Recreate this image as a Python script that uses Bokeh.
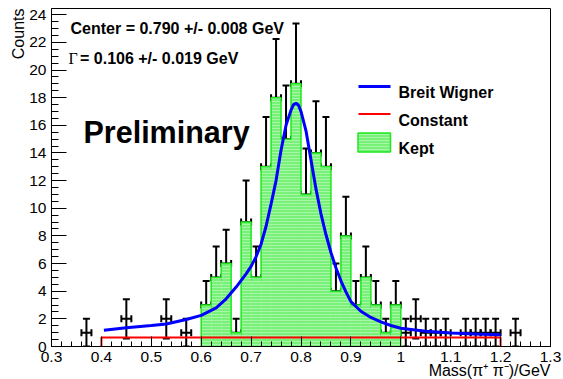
import numpy as np
from bokeh.plotting import figure
from bokeh.models import (ColumnDataSource, Whisker, TeeHead, Label, FixedTicker, Title)
from bokeh.embed import file_html
from bokeh.resources import INLINE

# ---------------- data ----------------
bin_width = 0.02
data_centers = [0.37, 0.45, 0.53, 0.57, 0.61, 0.63, 0.65, 0.67, 0.69, 0.71,
                0.73, 0.75, 0.77, 0.79, 0.81, 0.83, 0.85, 0.87, 0.89, 0.91,
                0.93, 0.95, 0.97, 0.99, 1.01, 1.03, 1.05, 1.07, 1.09, 1.13,
                1.15, 1.17, 1.19, 1.23]
data_counts = [1, 2, 2, 1, 3, 5, 6, 1, 9, 5,
               13, 18, 15, 19, 11, 14, 13, 4, 8, 3,
               5, 3, 1, 3, 1, 2, 1, 1, 1, 1,
               1, 1, 1, 1]

kept_range = (0.60, 1.00)

const_value = 0.65
const_range = (0.40, 1.20)

bw_x = [0.405, 0.45, 0.50, 0.53, 0.57, 0.60, 0.63, 0.65, 0.67, 0.69,
        0.70, 0.71, 0.72, 0.73, 0.74, 0.75, 0.76, 0.77, 0.78, 0.785,
        0.79, 0.795, 0.80, 0.81, 0.82, 0.83, 0.84, 0.85, 0.86, 0.87,
        0.88, 0.89, 0.90, 0.92, 0.94, 0.96, 0.98, 1.00, 1.05, 1.10,
        1.15, 1.20]
bw_y = [1.18, 1.36, 1.52, 1.63, 1.95, 2.25, 2.80, 3.45, 4.30, 5.25,
        5.80, 6.50, 7.40, 8.70, 10.3, 12.0, 14.2, 16.0, 17.1, 17.5,
        17.6, 17.45, 17.0, 15.6, 13.5, 11.4, 9.6, 8.1, 6.8, 5.7,
        4.75, 3.95, 3.25, 2.55, 2.1, 1.78, 1.52, 1.32, 1.1, 0.98,
        0.9, 0.85]

x_ticks = [0.3, 0.4, 0.5, 0.6, 0.7, 0.8, 0.9, 1.0, 1.1, 1.2, 1.3]
x_tick_labels = ["0.3", "0.4", "0.5", "0.6", "0.7", "0.8", "0.9", "1", "1.1", "1.2", "1.3"]
y_ticks = [0, 2, 4, 6, 8, 10, 12, 14, 16, 18, 20, 22, 24]

center_text = "Center = 0.790 +/- 0.008 GeV"
gamma_symbol = "Γ"
gamma_text = "= 0.106 +/- 0.019 GeV"
prelim_text = "Preliminary"
legend_labels = ["Breit Wigner", "Constant", "Kept"]
x_title = "Mass(π⁺ π⁻)/GeV"
y_title = "Counts"

# ---------------- layout ----------------
W, H = 563, 379
FL, FR, FT, FB = 51, 550, 8, 346
X0, X1 = 0.3, 1.3
Y0, Y1 = 0.0, 24.45


def dx(px):
    return X0 + (px - FL) / (FR - FL) * (X1 - X0)


def dy(py):
    return Y0 + (FB - py) / (FB - FT) * (Y1 - Y0)


p = figure(width=W, height=H, x_range=(X0, X1), y_range=(Y0, Y1),
           output_backend="svg", toolbar_location=None,
           min_border_left=FL, min_border_right=W - FR,
           min_border_top=FT, min_border_bottom=H - FB)
p.xgrid.visible = False
p.ygrid.visible = False
p.outline_line_color = "black"
p.outline_line_width = 1
p.background_fill_color = "white"
p.border_fill_color = "white"

FONT = "Liberation Sans"

# axes
xa = p.xaxis[0]
xa.ticker = FixedTicker(ticks=x_ticks,
                        minor_ticks=list(np.round(np.arange(0.3, 1.3001, 0.02), 3)))
xa.major_label_overrides = {t: l for t, l in zip(x_ticks, x_tick_labels)}
xa.major_tick_in = 10
xa.major_tick_out = 0
xa.minor_tick_in = 5
xa.minor_tick_out = 0
xa.major_label_standoff = 5
xa.major_label_text_font = FONT
xa.major_label_text_font_size = "15.5px"
xa.major_label_text_color = "black"
xa.axis_line_color = "black"

ya = p.yaxis[0]
ya.ticker = FixedTicker(ticks=y_ticks,
                        minor_ticks=list(np.arange(0, 24.5001, 0.5)))
ya.major_tick_in = 15
ya.major_tick_out = 0
ya.minor_tick_in = 7
ya.minor_tick_out = 0
ya.major_label_standoff = 5
ya.major_label_text_font = FONT
ya.major_label_text_font_size = "15.5px"
ya.major_label_text_color = "black"
ya.axis_line_color = "black"

# axis titles as side-panel titles (right/top aligned as in the original)
p.add_layout(Title(text=x_title, align="right", vertical_align="top",
                   standoff=-6, offset=0,
                   text_font=FONT, text_font_size="16px",
                   text_font_style="normal", text_color="black"), "below")
p.add_layout(Title(text=y_title, align="right", standoff=0, offset=0,
                   text_font=FONT, text_font_size="16px",
                   text_font_style="normal", text_color="black"), "left")

# ---------------- kept histogram ----------------
dc = np.array(data_centers)
cnt = np.array(data_counts, dtype=float)
mask = (dc > kept_range[0]) & (dc < kept_range[1])
k_left = dc[mask] - bin_width / 2
k_right = dc[mask] + bin_width / 2
k_val = cnt[mask]

GREEN_FILL = "#78f178"
GREEN_LINE = "#1ee81e"
HATCH = dict(hatch_pattern="horizontal_line", hatch_color="white",
             hatch_scale=3, hatch_weight=1, hatch_alpha=0.35)
p.quad(left=k_left, right=k_right, top=k_val, bottom=0,
       fill_color=GREEN_FILL, line_color=None, **HATCH)

# outline step
sx, sy = [k_left[0]], [0.0]
for l, r, v in zip(k_left, k_right, k_val):
    sx += [l, r]
    sy += [v, v]
sx.append(k_right[-1])
sy.append(0.0)
p.line(sx, sy, line_color=GREEN_LINE, line_width=1.5)

# ---------------- constant ----------------
p.line([const_range[0], const_range[0], const_range[1], const_range[1]],
       [0, const_value, const_value, 0], line_color="#ff0000", line_width=2)

# ---------------- data error bars ----------------
src = ColumnDataSource(dict(x=dc, y=cnt,
                            ylo=cnt - np.sqrt(cnt), yhi=cnt + np.sqrt(cnt),
                            xlo=dc - bin_width / 2, xhi=dc + bin_width / 2))
vw = Whisker(source=src, base="x", lower="ylo", upper="yhi", dimension="height",
             line_color="black", line_width=2,
             upper_head=TeeHead(size=7, line_width=2, line_color="black"),
             lower_head=TeeHead(size=7, line_width=2, line_color="black"))
hw = Whisker(source=src, base="y", lower="xlo", upper="xhi", dimension="width",
             line_color="black", line_width=2,
             upper_head=TeeHead(size=7, line_width=2, line_color="black"),
             lower_head=TeeHead(size=7, line_width=2, line_color="black"))
p.add_layout(vw)
p.add_layout(hw)

# ---------------- Breit-Wigner curve ----------------
p.line(bw_x, bw_y, line_color="#0000ff", line_width=3)

# ---------------- texts ----------------
def add_label(txt, px, py, size, bold=False, font=FONT, align="left",
              angle=0.0, baseline="alphabetic"):
    p.add_layout(Label(x=dx(px), y=dy(py), text=txt, text_font=font,
                       text_font_size=size,
                       text_font_style="bold" if bold else "normal",
                       text_align=align, text_baseline=baseline,
                       angle=angle, text_color="black"))


add_label(center_text, 70, 28, "16px", bold=True)
add_label(gamma_symbol, 68, 58, "16px", font="Liberation Serif")
add_label(gamma_text, 79.5, 58, "16px", bold=True)
add_label(prelim_text, 83, 131.5, "30.5px", bold=True)

# ---------------- legend (manual) ----------------
p.line([dx(358), dx(390)], [dy(86), dy(86)], line_color="#0000ff", line_width=3)
p.line([dx(358), dx(390)], [dy(113.5), dy(113.5)], line_color="#ff0000", line_width=2)
p.quad(left=[dx(357.5)], right=[dx(390)], top=[dy(132.5)], bottom=[dy(151.5)],
       fill_color=GREEN_FILL, line_color=GREEN_LINE, line_width=1.5, **HATCH)
for lbl, py in zip(legend_labels, [92, 119.5, 147.5]):
    add_label(lbl, 398, py, "16px", bold=True)

open("out.html", "w").write(file_html(p, INLINE))
